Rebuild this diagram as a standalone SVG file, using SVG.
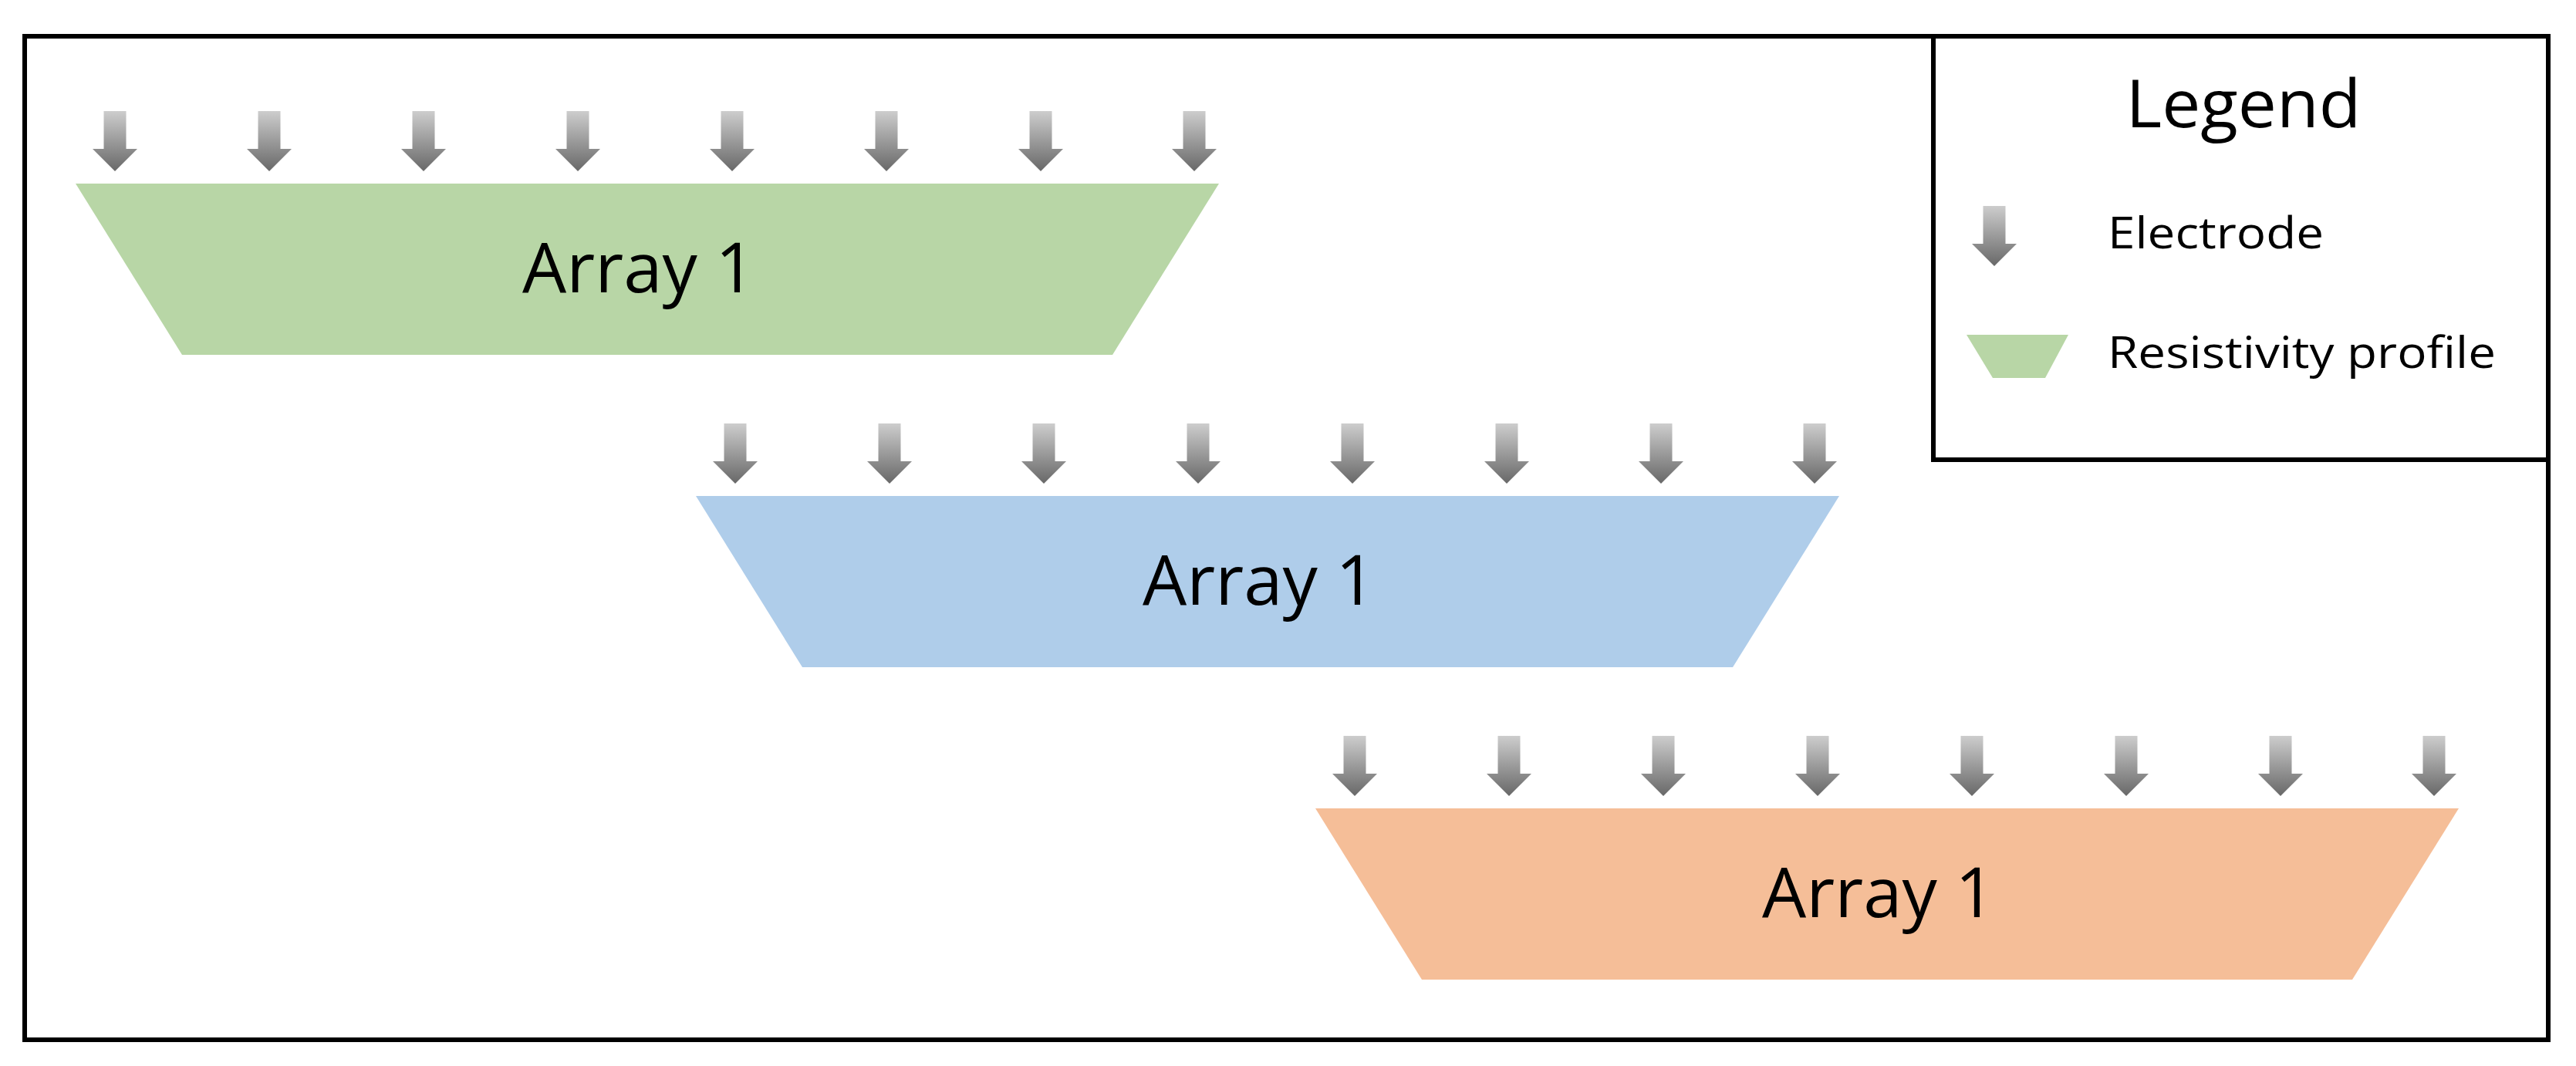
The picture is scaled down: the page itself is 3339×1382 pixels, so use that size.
<svg xmlns="http://www.w3.org/2000/svg" xmlns:xlink="http://www.w3.org/1999/xlink" width="3339" height="1382" viewBox="0 0 3339 1382">
<style>
text{font-family:"Open Sans","Liberation Sans",sans-serif;fill:#000}
.lbl{font-size:90px;text-anchor:middle}
.leg{font-size:56px}
.box{fill:none;stroke:#000;stroke-width:6}
</style>
<defs>
<linearGradient id="g" x1="0" y1="0" x2="0" y2="1">
<stop offset="0" stop-color="#cdcdcd"/><stop offset="1" stop-color="#686868"/>
</linearGradient>
<symbol id="arr" overflow="visible"><path d="M-14.5 0H14.5V49H29L0 78L-29 49H-14.5Z" fill="url(#g)"/></symbol>
</defs>
<rect width="3339" height="1382" fill="#fff"/>
<rect class="box" x="32" y="47" width="3271" height="1301"/>
<g id="array1">
<polygon points="98,238 1580,238 1442,460 236,460" fill="#B8D6A6"/>
<text class="lbl" x="828" y="379" textLength="302" lengthAdjust="spacingAndGlyphs">Array 1</text>
<g id="electrodes1"><use href="#arr" x="149" y="144"/><use href="#arr" x="349" y="144"/><use href="#arr" x="549" y="144"/><use href="#arr" x="749" y="144"/><use href="#arr" x="949" y="144"/><use href="#arr" x="1149" y="144"/><use href="#arr" x="1349" y="144"/><use href="#arr" x="1548" y="144"/></g>
</g>
<g id="array2" transform="translate(804,405)">
<polygon points="98,238 1580,238 1442,460 236,460" fill="#AFCDEA"/>
<text class="lbl" x="828" y="379" textLength="302" lengthAdjust="spacingAndGlyphs">Array 1</text>
<g><use href="#arr" x="149" y="144"/><use href="#arr" x="349" y="144"/><use href="#arr" x="549" y="144"/><use href="#arr" x="749" y="144"/><use href="#arr" x="949" y="144"/><use href="#arr" x="1149" y="144"/><use href="#arr" x="1349" y="144"/><use href="#arr" x="1548" y="144"/></g>
</g>
<g id="array3" transform="translate(1607,810)">
<polygon points="98,238 1580,238 1442,460 236,460" fill="#F5BE98"/>
<text class="lbl" x="828" y="379" textLength="302" lengthAdjust="spacingAndGlyphs">Array 1</text>
<g><use href="#arr" x="149" y="144"/><use href="#arr" x="349" y="144"/><use href="#arr" x="549" y="144"/><use href="#arr" x="749" y="144"/><use href="#arr" x="949" y="144"/><use href="#arr" x="1149" y="144"/><use href="#arr" x="1349" y="144"/><use href="#arr" x="1548" y="144"/></g>
</g>
<g id="legend">
<rect class="box" x="2506" y="47" width="797" height="549"/>
<text x="2908" y="165" font-size="86" text-anchor="middle" textLength="305" lengthAdjust="spacingAndGlyphs">Legend</text>
<use href="#arr" x="2585" y="267"/>
<text class="leg" x="2732" y="322" textLength="280" lengthAdjust="spacingAndGlyphs">Electrode</text>
<polygon points="2549,434 2681,434 2651,490 2583,490" fill="#B8D6A6"/>
<text class="leg" x="2732" y="477" textLength="503" lengthAdjust="spacingAndGlyphs">Resistivity profile</text>
</g>
</svg>
